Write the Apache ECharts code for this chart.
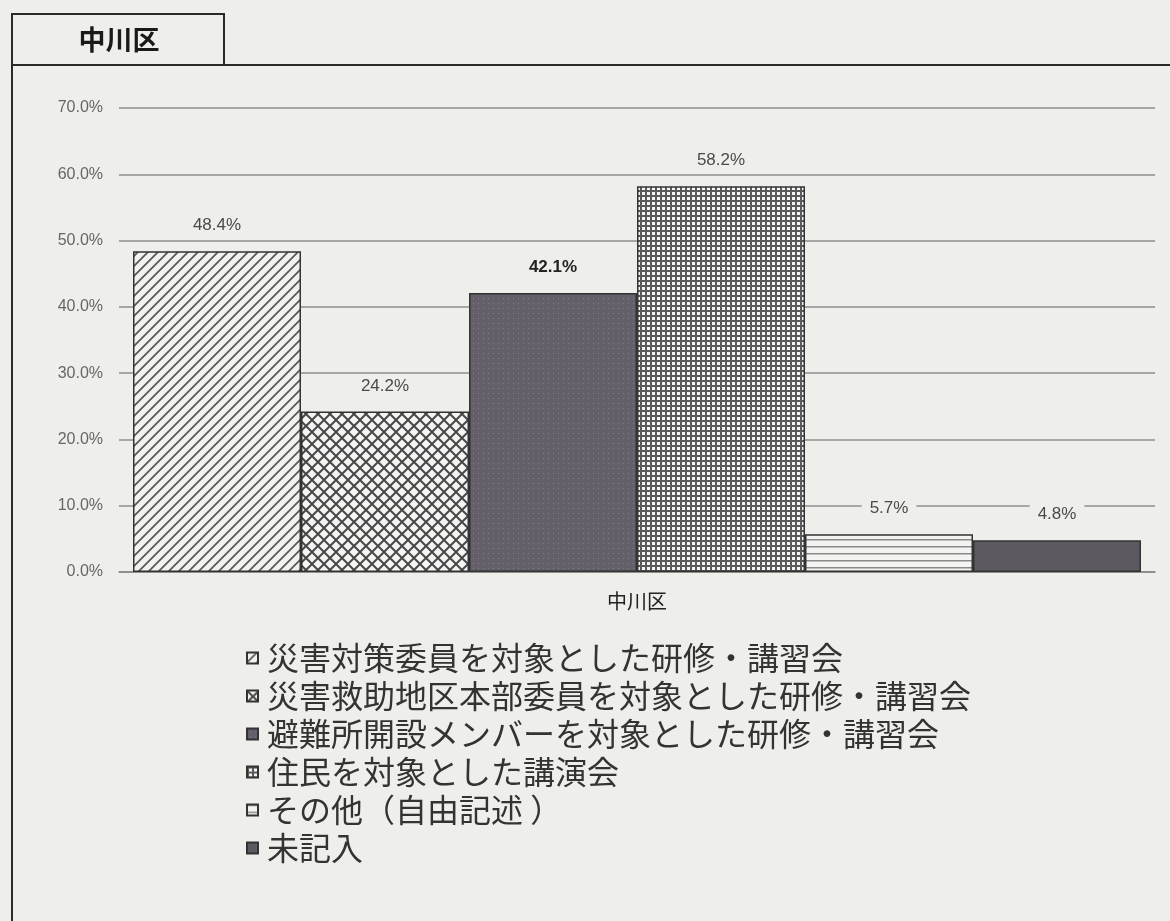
<!DOCTYPE html>
<html>
<head>
<meta charset="utf-8">
<script src="https://cdn.jsdelivr.net/npm/echarts@6/dist/echarts.min.js"></script>
<style>
  html, body { margin: 0; padding: 0; background: #eeeeea; }
  #chart { width: 1170px; height: 921px; }
</style>
</head>
<body>
<div id="chart"></div>
<script>
// ---- data ----
const categories = ['中川区'];
const seriesNames = [
  '災害対策委員を対象とした研修・講習会',
  '災害救助地区本部委員を対象とした研修・講習会',
  '避難所開設メンバーを対象とした研修・講習会',
  '住民を対象とした講演会',
  'その他（自由記述 ）',
  '未記入'
];
const values1 = [48.4];
const values2 = [24.2];
const values3 = [42.1];
const values4 = [58.2];
const values5 = [5.7];
const values6 = [4.8];
const allValues = [values1, values2, values3, values4, values5, values6];
const yTicks = [0, 10, 20, 30, 40, 50, 60, 70];
const panelTitle = '中川区';

// ---- patterns ----
function makeTile(w, h, draw) {
  const c = document.createElement('canvas');
  c.width = w; c.height = h;
  draw(c.getContext('2d'), w, h);
  return { image: c, repeat: 'repeat' };
}
const patterns = [
  makeTile(10, 10, (g, w, h) => {
    g.fillStyle = '#f2f2ef'; g.fillRect(0, 0, w, h);
    g.strokeStyle = '#5a5a5a'; g.lineWidth = 1.8;
    g.beginPath();
    g.moveTo(-1, 11); g.lineTo(11, -1);
    g.moveTo(-6, 6); g.lineTo(6, -6);
    g.moveTo(4, 16); g.lineTo(16, 4);
    g.stroke();
  }),
  makeTile(12, 12, (g, w, h) => {
    g.fillStyle = '#f4f4f2'; g.fillRect(0, 0, w, h);
    g.strokeStyle = '#484848'; g.lineWidth = 2;
    g.beginPath();
    g.moveTo(-1, 13); g.lineTo(13, -1);
    g.moveTo(-1, -1); g.lineTo(13, 13);
    g.stroke();
  }),
  makeTile(5, 5, (g, w, h) => {
    g.fillStyle = '#645f69'; g.fillRect(0, 0, w, h);
    g.fillStyle = '#827d88'; g.fillRect(3, 3, 1, 1);
  }),
  makeTile(5, 5, (g, w, h) => {
    g.fillStyle = '#f6f6f6'; g.fillRect(0, 0, w, h);
    g.fillStyle = '#5a5a5a'; g.fillRect(0, 0, w, 2); g.fillRect(0, 0, 2, h);
  }),
  makeTile(7, 7, (g, w, h) => {
    g.fillStyle = '#f3f3f1'; g.fillRect(0, 0, w, h);
    g.fillStyle = '#8a8a8a'; g.fillRect(0, 0, w, 1.5);
  }),
  '#5d5961'
];

const chart = echarts.init(document.getElementById('chart'));
const labelFont = "'Liberation Sans', Arial, sans-serif";
const cjkFont = "'Noto Sans CJK JP', 'Noto Sans', sans-serif";

const series = seriesNames.map((name, i) => ({
  name: name,
  type: 'bar',
  data: allValues[i],
  barWidth: 168,
  barGap: '0%',
  itemStyle: { color: patterns[i], borderColor: '#333', borderWidth: 1.5 },
  label: {
    show: true,
    position: 'top',
    distance: 14,
    formatter: p => p.value.toFixed(1) + '%',
    fontFamily: labelFont,
    fontSize: 17,
    color: i === 2 ? '#222' : '#4a4a4a',
    fontWeight: i === 2 ? 'bold' : 'normal',
    backgroundColor: '#eeeeea',
    padding: [3, 8]
  }
}));

chart.setOption({
  backgroundColor: '#eeeeea',
  animation: false,
  grid: { left: 119, right: 15, top: 108, bottom: 349, containLabel: false },
  xAxis: {
    type: 'category',
    data: categories,
    axisLine: { show: true, lineStyle: { color: '#888', width: 1.5 } },
    axisTick: { show: false },
    axisLabel: { margin: 19, fontFamily: cjkFont, fontSize: 20, color: '#222' }
  },
  yAxis: {
    type: 'value',
    min: yTicks[0],
    max: yTicks[yTicks.length - 1],
    interval: 10,
    axisLine: { show: false },
    axisTick: { show: false },
    splitLine: { lineStyle: { color: '#8e8e8e', width: 1.5 } },
    axisLabel: {
      margin: 16,
      formatter: v => v.toFixed(1) + '%',
      fontFamily: labelFont, fontSize: 16, color: '#666'
    }
  },
  legend: {
    orient: 'vertical',
    left: 241,
    top: 637,
    itemWidth: 11,
    itemHeight: 11,
    itemGap: 6,
    icon: 'rect',
    textStyle: { fontFamily: cjkFont, fontSize: 32, color: '#333', lineHeight: 32, padding: [0, 0, 0, 4] },
    data: seriesNames
  },
  graphic: [
    { type: 'rect', shape: { x: 12, y: 14, width: 212, height: 51 }, style: { fill: 'none', stroke: '#2a2a2a', lineWidth: 2 } },
    { type: 'line', shape: { x1: 12, y1: 65, x2: 1170, y2: 65 }, style: { stroke: '#2a2a2a', lineWidth: 2 } },
    { type: 'line', shape: { x1: 12, y1: 65, x2: 12, y2: 921 }, style: { stroke: '#2a2a2a', lineWidth: 2 } },
    { type: 'text', x: 119, y: 40, style: { text: panelTitle, fontFamily: cjkFont, fontSize: 27, fontWeight: 'bold', fill: '#1a1a1a', align: 'center', verticalAlign: 'middle' } }
  ],
  series: series
});
</script>
</body>
</html>
